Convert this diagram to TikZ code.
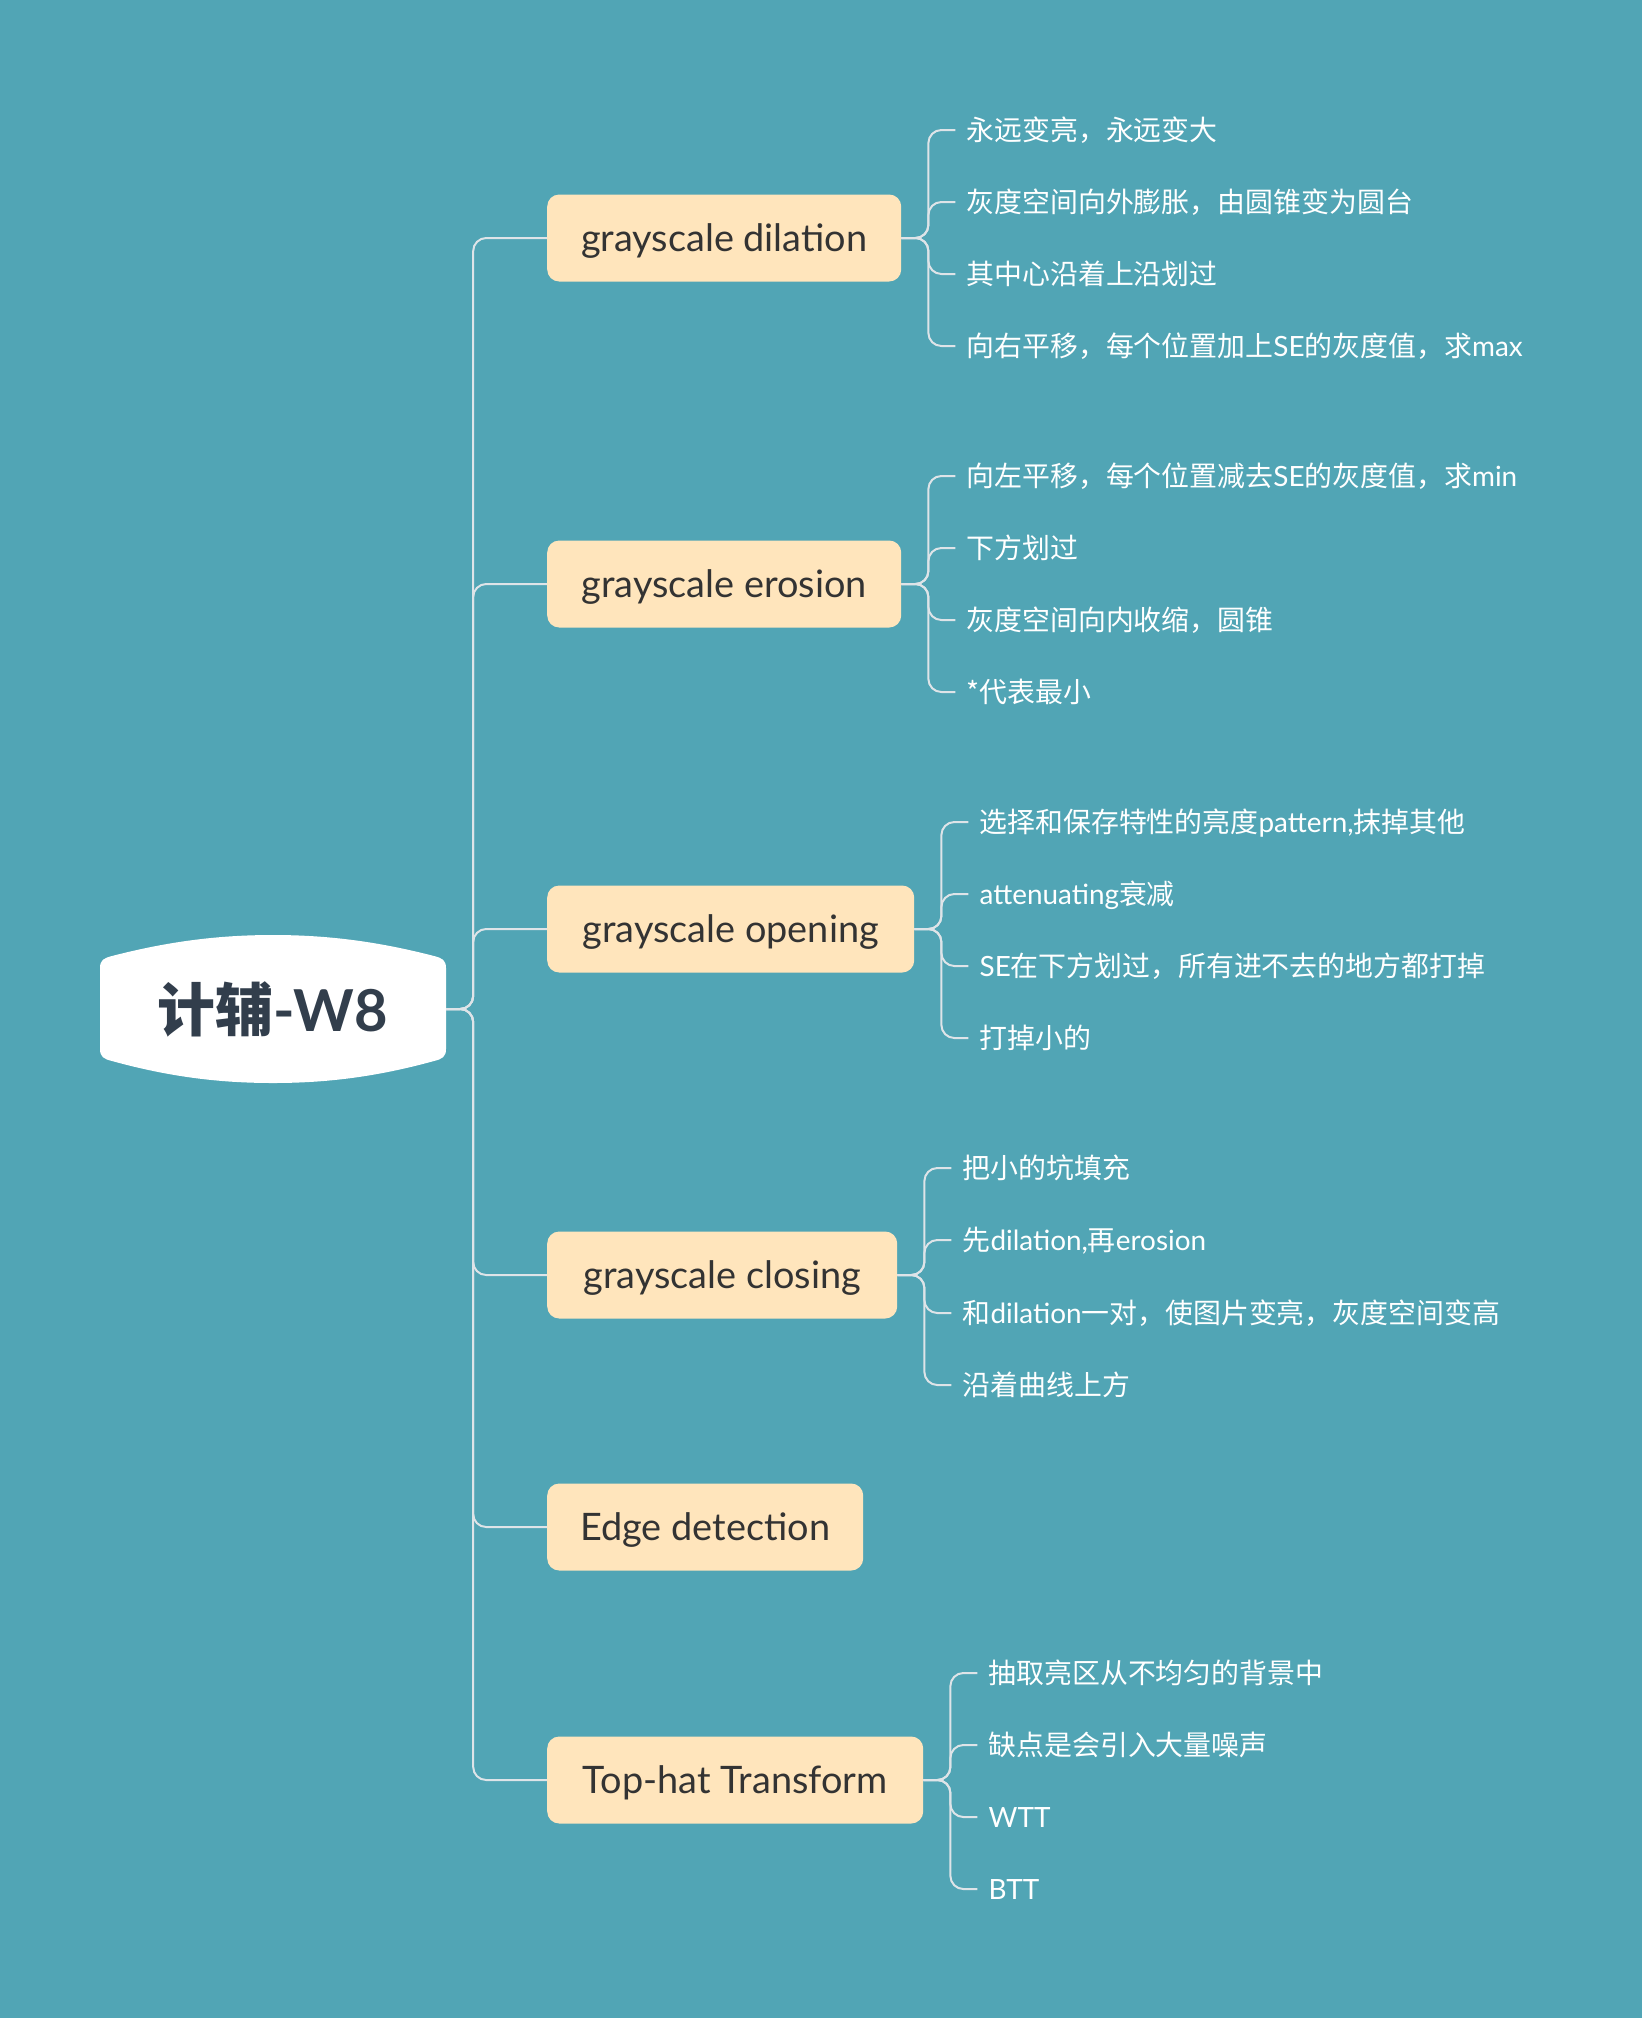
\documentclass[tikz,border=0pt]{standalone}
\usepackage{fontspec}
\setmainfont{Lato}
\newfontfamily\cjk{Noto Sans CJK SC}
\newfontfamily\latf{Lato}
\newcommand\lt[1]{{\latf #1}}
\definecolor{bg}{RGB}{81,165,181}
\definecolor{peach}{RGB}{255,229,188}
\definecolor{linec}{RGB}{222,228,232}
\definecolor{darktxt}{RGB}{51,51,51}
\definecolor{roottxt}{RGB}{50,62,76}
\tikzset{
  branch/.style={anchor=west, fill=peach, rounded corners=12bp, minimum height=87bp,
    inner xsep=28bp, inner ysep=0pt, text=darktxt, font=\fontsize{38}{44}\selectfont,
    text height=31bp, text depth=4bp},
  leaf/.style={anchor=west, inner xsep=11bp, inner ysep=0pt, text=white,
    font=\cjk\fontsize{28}{34}\selectfont, text height=24bp, text depth=4bp},
  conn/.style={draw=linec, line width=2bp, rounded corners=13bp},
  rootbox/.style={minimum width=346bp, minimum height=148bp, inner sep=0pt, text=roottxt,
    font=\fontsize{58}{66}\selectfont\bfseries},
}
\begin{document}
\begin{tikzpicture}[x=1bp,y=-1bp]
\fill[bg] (0,0) rectangle (1642,2018);
\useasboundingbox (0,0) rectangle (1642,2018);

% root shape
\fill[white] (100,1049) -- (100,968) .. controls (100,960) and (104,958) .. (112,956)
  .. controls (170,941) and (220,935) .. (273,935)
  .. controls (326,935) and (376,941) .. (434,956)
  .. controls (442,958) and (446,960) .. (446,968) -- (446,1049)
  .. controls (446,1057) and (442,1059) .. (434,1061)
  .. controls (376,1077) and (326,1083) .. (273,1083)
  .. controls (220,1083) and (170,1077) .. (112,1061)
  .. controls (104,1059) and (100,1057) .. (100,1049) -- cycle;
\node[rootbox] (root) at (273,1009) {{\cjk\bfseries 计辅}-W8};

% branches
\node[branch, minimum width=354bp] (b1) at (547,238) {grayscale dilation};
\node[branch, minimum width=354bp] (b2) at (547,584) {grayscale erosion};
\node[branch, minimum width=367bp] (b3) at (547,929) {grayscale opening};
\node[branch, minimum width=350bp] (b4) at (547,1275) {grayscale closing};
\node[branch, minimum width=316bp] (b5) at (547,1527) {Edge detection};
\node[branch, minimum width=376bp] (b6) at (547,1780) {Top-hat Transform};

\foreach \b in {b1,b2,b3,b4,b5,b6}
  \draw[conn] (root.east) -- ++(27,0) |- (\b.west);

% leaves of dilation
\node[leaf, xshift=54bp] (l11) at (b1.east |- 0,130) {永远变亮，永远变大};
\node[leaf, xshift=54bp] (l12) at (b1.east |- 0,202) {灰度空间向外膨胀，由圆锥变为圆台};
\node[leaf, xshift=54bp] (l13) at (b1.east |- 0,274) {其中心沿着上沿划过};
\node[leaf, xshift=54bp] (l14) at (b1.east |- 0,346) {向右平移，每个位置加上\lt{SE}的灰度值，求\lt{max}};
% erosion
\node[leaf, xshift=54bp] (l21) at (b2.east |- 0,476) {向左平移，每个位置减去\lt{SE}的灰度值，求\lt{min}};
\node[leaf, xshift=54bp] (l22) at (b2.east |- 0,548) {下方划过};
\node[leaf, xshift=54bp] (l23) at (b2.east |- 0,620) {灰度空间向内收缩，圆锥};
\node[leaf, xshift=54bp] (l24) at (b2.east |- 0,692) {*代表最小};
% opening
\node[leaf, xshift=54bp] (l31) at (b3.east |- 0,822) {选择和保存特性的亮度\lt{pattern,}抹掉其他};
\node[leaf, xshift=54bp] (l32) at (b3.east |- 0,894) {\lt{attenuating}衰减};
\node[leaf, xshift=54bp] (l33) at (b3.east |- 0,966) {\lt{SE}在下方划过，所有进不去的地方都打掉};
\node[leaf, xshift=54bp] (l34) at (b3.east |- 0,1038) {打掉小的};
% closing
\node[leaf, xshift=54bp] (l41) at (b4.east |- 0,1168) {把小的坑填充};
\node[leaf, xshift=54bp] (l42) at (b4.east |- 0,1240) {先\lt{dilation,}再\lt{erosion}};
\node[leaf, xshift=54bp] (l43) at (b4.east |- 0,1313) {和\lt{dilation}一对，使图片变亮，灰度空间变高};
\node[leaf, xshift=54bp] (l44) at (b4.east |- 0,1385) {沿着曲线上方};
% top-hat
\node[leaf, xshift=54bp] (l61) at (b6.east |- 0,1673) {抽取亮区从不均匀的背景中};
\node[leaf, xshift=54bp] (l62) at (b6.east |- 0,1745) {缺点是会引入大量噪声};
\node[leaf, xshift=54bp] (l63) at (b6.east |- 0,1817) {\lt{WTT}};
\node[leaf, xshift=54bp] (l64) at (b6.east |- 0,1889) {\lt{BTT}};

\foreach \b/\ls in {b1/{l11,l12,l13,l14}, b2/{l21,l22,l23,l24}, b3/{l31,l32,l33,l34},
                    b4/{l41,l42,l43,l44}, b6/{l61,l62,l63,l64}}
  \foreach \l in \ls
    \draw[conn] (\b.east) -- ++(27,0) |- (\l.west);
\end{tikzpicture}
\end{document}
